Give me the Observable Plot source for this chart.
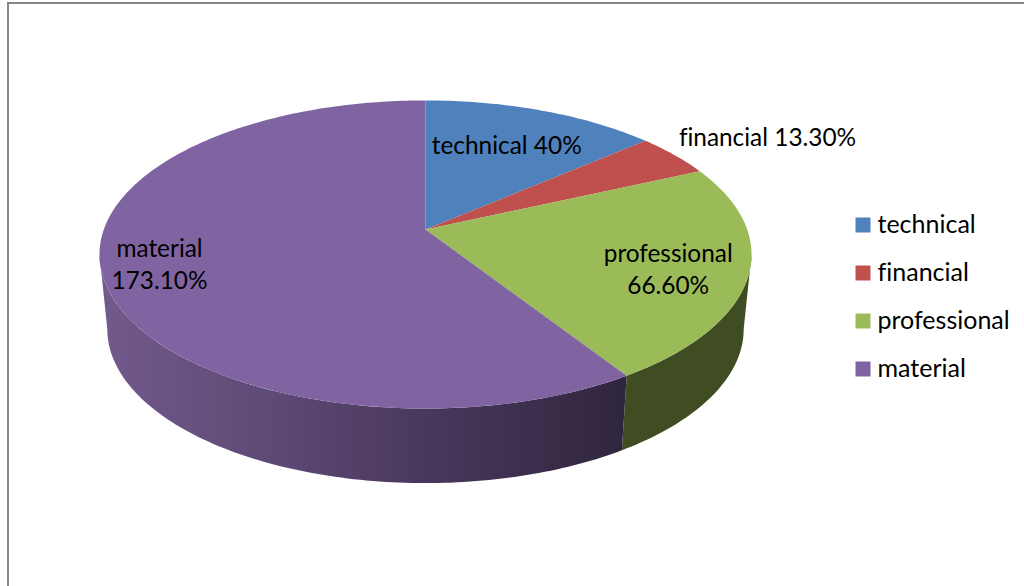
<!DOCTYPE html>
<html>
<head>
<meta charset="utf-8">
<style>html,body{margin:0;padding:0;background:#fff;overflow:hidden}svg{display:block}svg text{font-variant-ligatures:none}</style>
<script src="https://cdn.jsdelivr.net/npm/d3@7"></script>
<script src="https://cdn.jsdelivr.net/npm/@observablehq/plot@0.6"></script>
</head>
<body>
<div id="chart"></div>
<script>
const categories = ["technical", "financial", "professional", "material"];
const values = [40, 13.3, 66.6, 173.1];
const valueLabels = ["technical 40%", "financial 13.30%", "professional\n66.60%", "material\n173.10%"];
const colors = ["#4f81bd", "#c0504d", "#9bbb59", "#8064a2"];
const sideGreen = "#404c21";

// Layout of the tilted disc: perspective strength, and how far out each label sits
const perspective = 0.1623;
const rimDrop = 0.497, rimShrink = 0.976;
const labelRadius = [0.667, 1.2, 0.75, 0.85];
const labelDx = [0, 48, 3, 7];
const labelDy = [-3, -6, 5, -4];
const font = "Lato, 'Open Sans', sans-serif";
const labelSize = 24.4, legendSize = 25;

const total = d3.sum(values);
let acc = 0;
const slices = categories.map((name, i) => {
  const start = acc / total * 360;
  acc += values[i];
  return {name, start, end: acc / total * 360, label: valueLabels[i], i};
});
const proj = (deg, r = 1) => {
  const a = deg * Math.PI / 180, X = r * Math.sin(a), Z = r * Math.cos(a), d = 1 + perspective * Z;
  return {x: X / d, y: Z / d};
};
const arc = (from, to) => d3.range(0, 1.0001, 1 / Math.max(2, Math.ceil(Math.abs(to - from)))).map(t => from + (to - from) * t);
const topPts = slices.flatMap(s => [
  {name: s.name, x: 0, y: 0},
  ...arc(s.start, s.end).map(a => ({name: s.name, ...proj(a)}))
]);
const lower = a => { const p = proj(a); return {x: p.x * rimShrink, y: p.y - rimDrop}; };
const tangentR = 99.34, tangentL = 260.66;
const wall = (key, from, to) => [
  ...arc(from, to).map(a => ({key, ...proj(a)})),
  ...arc(to, from).map(a => ({key, ...lower(a)}))
];
const prof = slices[2];
const greenWall = wall("g", tangentR, prof.end);
const purpleWall = wall("p", prof.end, tangentL);

const labelData = slices.map(s => ({...proj((s.start + s.end) / 2, labelRadius[s.i]), text: s.label, i: s.i}));

const legendMarks = categories.flatMap((c, i) => [
  Plot.dot([c], {frameAnchor: "top-left", dx: 862.5, dy: 224.5 + 48 * i, symbol: "square", r: 8.46, fill: d => d, stroke: "none"}),
  Plot.text([c], {frameAnchor: "top-left", dx: 877, dy: 224 + 48 * i, text: d => d, textAnchor: "start", lineAnchor: "middle", fontSize: legendSize, fontFamily: font, fill: "#000"})
]);

const chart = Plot.plot({
  width: 1024, height: 586, margin: 0,
  style: {background: "#fff", fontFamily: font},
  x: {domain: [-1, 1], range: [103.3, 746.7], axis: null},
  y: {domain: [-1, 1], range: [379, 79], axis: null},
  color: {domain: categories, range: colors},
  marks: [
    () => {
      const defs = d3.create("svg:defs");
      const g = defs.append("linearGradient").attr("id", "sideGrad").attr("gradientUnits", "userSpaceOnUse")
        .attr("x1", 99).attr("x2", 626).attr("y1", 0).attr("y2", 0);
      [[0, "#725a8c"], [0.3, "#5f4b77"], [0.6, "#4a395e"], [1, "#30253e"]].forEach(([o, c]) =>
        g.append("stop").attr("offset", o).attr("stop-color", c));
      return defs.node();
    },
    Plot.frame({insetLeft: 7.5, insetTop: 2.5, insetRight: -10, insetBottom: -10, stroke: "#868686", strokeWidth: 2, fill: "none"}),
    Plot.line(greenWall, {x: "x", y: "y", fill: sideGreen, stroke: "none", curve: "linear"}),
    Plot.line(purpleWall, {x: "x", y: "y", fill: "url(#sideGrad)", stroke: "none", curve: "linear"}),
    Plot.line(topPts, {x: "x", y: "y", z: "name", fill: "name", stroke: "none", curve: "linear"}),
    ...labelData.map(d => Plot.text([d], {x: "x", y: "y", text: "text", dx: labelDx[d.i], dy: labelDy[d.i], fontSize: labelSize, fontFamily: font, fill: "#000", lineHeight: 1.32})),
    ...legendMarks
  ]
});
document.getElementById("chart").append(chart);
</script>
</body>
</html>
